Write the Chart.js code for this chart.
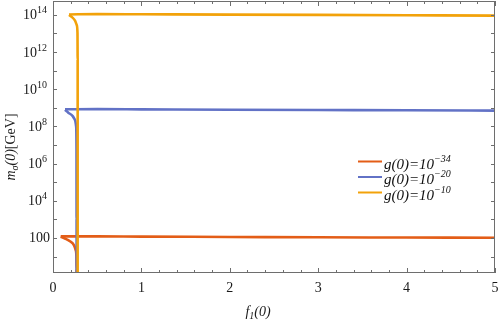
<!DOCTYPE html>
<html>
<head>
<meta charset="utf-8">
<script src="https://cdn.jsdelivr.net/npm/chart.js@4"></script>
<style>
  body { margin: 0; background: #fff; }
  #chart { display: block; }
</style>
</head>
<body>
<canvas id="chart" width="501" height="320"></canvas>
<script>
// three couplings g(0) = 10^-34, 10^-20, 10^-10
const seriesExp = ['-34', '-20', '-10'];
const seriesColors = ['#e35d17', '#6272c6', '#f2a20a'];

// upper branch, almost flat out to f1(0) = 5
const flatX34 = [0.087, 0.5, 1, 2, 3, 4, 5];
const flatY34 = [122, 121, 118, 113, 108, 105, 102];
const flatX20 = [0.136, 0.5, 1, 2, 3, 4, 5];
const flatY20 = [8.4e8, 8.5e8, 8.3e8, 7.9e8, 7.6e8, 7.4e8, 7.1e8];
const flatX10 = [0.181, 0.5, 1, 2, 3, 4, 5];
const flatY10 = [1.06e14, 1.1e14, 1.08e14, 1.04e14, 1.0e14, 9.6e13, 9.2e13];

// lower branch, falls off steeply near f1(0) ~ 0.27
const dropX34 = [0.087, 0.136, 0.192, 0.238, 0.257, 0.265, 0.267, 0.267];
const dropY34 = [115, 93, 66, 40, 22, 9.8, 2, 0.1];
const dropX20 = [0.136, 0.173, 0.223, 0.249, 0.262, 0.266, 0.267, 0.267];
const dropY20 = [7.8e8, 5.5e8, 3.6e8, 2.2e8, 9.8e7, 5.4e6, 1e3, 0.1];
const dropX10 = [0.181, 0.215, 0.249, 0.268, 0.277, 0.279, 0.279, 0.279];
const dropY10 = [1.0e14, 7.6e13, 4.9e13, 2.9e13, 1.07e13, 3.8e11, 1e6, 0.1];

// axes
const xTickValues = [0, 1, 2, 3, 4, 5];
const xTickLabels = ['0', '1', '2', '3', '4', '5'];
const yLabelPowers = [2, 4, 6, 8, 10, 12, 14];
const yMinorPowers = [1, 3, 5, 7, 9, 11, 13];

const pts = (xs, ys) => xs.map((x, i) => ({ x: x, y: ys[i] }));

function branch(xs, ys, color, order) {
  return {
    data: pts(xs, ys),
    borderColor: color,
    borderWidth: 2.6,
    pointRadius: 0,
    fill: false,
    cubicInterpolationMode: 'monotone',
    order: order
  };
}

const serif = '"Liberation Serif", "DejaVu Serif", serif';

// draws a list of text runs [text, font, dy] starting at x
function drawRuns(ctx, x, y, runs, align) {
  let w = 0;
  runs.forEach(r => { ctx.font = r[1]; w += ctx.measureText(r[0]).width; });
  let cx = align === 'right' ? x - w : align === 'center' ? x - w / 2 : x;
  ctx.textAlign = 'left';
  ctx.textBaseline = 'alphabetic';
  runs.forEach(r => {
    ctx.font = r[1];
    ctx.fillText(r[0], cx, y + (r[2] || 0));
    cx += ctx.measureText(r[0]).width;
  });
}

const framePlugin = {
  id: 'frame',
  afterDraw(chart) {
    const ctx = chart.ctx;
    const a = chart.chartArea;
    const xs = chart.scales.x, ys = chart.scales.y;
    ctx.save();
    ctx.strokeStyle = '#6e6e6e';
    ctx.lineWidth = 1;
    ctx.strokeRect(a.left + 0.5, a.top + 0.5, a.right - a.left - 1, a.bottom - a.top - 1);

    ctx.beginPath();
    // x ticks, inward on bottom and top
    for (let v = 0; v <= 5.001; v += 0.2) {
      const px = Math.round(xs.getPixelForValue(v)) + 0.5;
      const major = Math.abs(v - Math.round(v)) < 1e-6;
      const len = major ? 5 : 3;
      ctx.moveTo(px, a.bottom); ctx.lineTo(px, a.bottom - len);
      ctx.moveTo(px, a.top); ctx.lineTo(px, a.top + len);
    }
    // y ticks, every decade, left and right
    yLabelPowers.concat(yMinorPowers).forEach(p => {
      const py = Math.round(ys.getPixelForValue(Math.pow(10, p))) + 0.5;
      ctx.moveTo(a.left, py); ctx.lineTo(a.left + 4, py);
      ctx.moveTo(a.right, py); ctx.lineTo(a.right - 4, py);
    });
    ctx.stroke();

    ctx.fillStyle = '#1a1a1a';
    const f14 = '14px ' + serif, f10 = '10px ' + serif;
    xTickValues.forEach((v, i) => {
      drawRuns(ctx, xs.getPixelForValue(v), 292, [[xTickLabels[i], f14]], 'center');
    });
    yLabelPowers.forEach(p => {
      const py = ys.getPixelForValue(Math.pow(10, p)) + 4.5;
      if (p === 2) drawRuns(ctx, 50, py, [['100', f14]], 'right');
      else drawRuns(ctx, 47, py, [['10', f14], [String(p), f10, -6]], 'right');
    });

    // axis titles
    const fi14 = 'italic 14px ' + serif, fi10 = 'italic 10px ' + serif;
    drawRuns(ctx, 258, 316, [['f', fi14], ['1', fi10, 3], ['(0)', fi14]], 'center');
    ctx.save();
    ctx.translate(15, 147);
    ctx.rotate(-Math.PI / 2);
    drawRuns(ctx, 0, 0, [['m', fi14], ['\u03c3', fi10, 3], ['(0)', fi14], ['[GeV]', '14px ' + serif]], 'center');
    ctx.restore();

    // legend
    const fi15 = 'italic 15px ' + serif;
    const rows = [161.5, 177, 192.5];
    seriesExp.forEach((e, i) => {
      ctx.strokeStyle = seriesColors[i];
      ctx.lineWidth = 2;
      ctx.beginPath();
      ctx.moveTo(358, rows[i]); ctx.lineTo(382, rows[i]);
      ctx.stroke();
      ctx.fillStyle = '#111';
      drawRuns(ctx, 384, rows[i] + 7, [['g(0)=10', fi15], ['\u2212' + e.slice(1), fi10, -7]], 'left');
    });
    ctx.restore();
  }
};

new Chart(document.getElementById('chart'), {
  type: 'line',
  data: {
    datasets: [
      branch(flatX10, flatY10, seriesColors[2], 0),
      branch(dropX10, dropY10, seriesColors[2], 0),
      branch(flatX20, flatY20, seriesColors[1], 1),
      branch(dropX20, dropY20, seriesColors[1], 1),
      branch(flatX34, flatY34, seriesColors[0], 2),
      branch(dropX34, dropY34, seriesColors[0], 2)
    ]
  },
  options: {
    responsive: false,
    animation: false,
    layout: { padding: { left: 53, right: 6, top: 1, bottom: 47 } },
    plugins: { legend: { display: false }, tooltip: { enabled: false } },
    scales: {
      x: { type: 'linear', min: 0, max: 5, display: false },
      y: { type: 'logarithmic', min: 1.3, max: 5.6e14, display: false }
    }
  },
  plugins: [framePlugin]
});
</script>
</body>
</html>
